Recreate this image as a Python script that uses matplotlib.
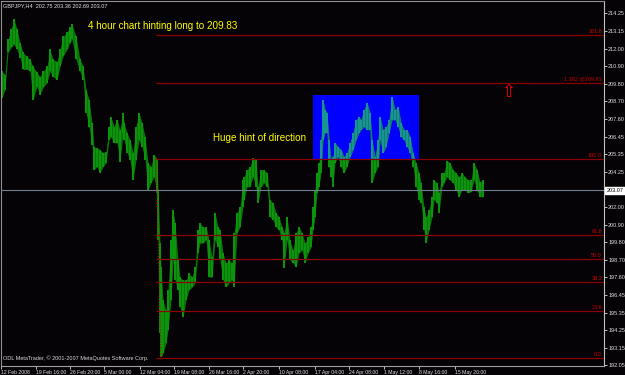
import matplotlib
matplotlib.use("Agg")
import matplotlib.pyplot as plt
import matplotlib.transforms as mtransforms
from matplotlib.patches import Rectangle

# GBPJPY H4 bars, sampled every few bars (bar number, high, low)
bar_no = [2, 5, 8, 11, 14, 17, 20, 23, 27, 30, 33, 37, 40, 43, 47, 50, 53, 57, 60, 63,
          67, 70, 72, 76, 80, 83, 86, 89, 92, 94, 97, 100, 103, 106, 109, 111, 114, 117, 120, 123,
          124, 127, 130, 133, 136, 139, 142, 145, 148, 151, 154, 157, 158, 160, 161, 163, 166, 168, 171, 173,
          175, 178, 180, 183, 186, 189, 192, 195, 198, 200, 203, 206, 209, 212, 215, 218, 220, 223, 226, 229,
          232, 234, 237, 240, 243, 244, 247, 250, 253, 256, 258, 261, 264, 267, 270, 273, 276, 279, 282, 284,
          287, 290, 293, 296, 299, 302, 305, 308, 311, 313, 315, 317, 319, 321, 323, 325, 327, 329, 331, 333,
          335, 338, 341, 344, 347, 350, 353, 356, 359, 361, 364, 367, 370, 372, 375, 378, 380, 383, 386, 389,
          392, 395, 398, 401, 404, 407, 410, 413, 416, 419, 421, 424, 426, 429, 432, 434, 437, 439, 442, 444,
          447, 450, 453, 456, 459, 462, 465, 468, 471, 474, 477, 480, 483]
highs = [210.58, 210.39, 212.60, 213.24, 213.87, 213.24, 212.41, 211.78, 211.53, 211.34,
         210.90, 210.52, 210.26, 210.58, 210.90, 211.97, 211.34, 211.21, 211.97, 212.79,
         213.05, 213.36, 213.55, 212.79, 211.34, 210.90, 209.44, 208.81, 207.35, 205.83,
         205.77, 205.64, 205.45, 205.52, 207.10, 207.73, 207.10, 207.54, 206.91, 207.98,
         207.35, 206.72, 206.27, 205.45, 207.10, 207.98, 207.35, 206.46, 204.82, 204.57,
         205.33, 205.07, 203.11, 199.75, 198.23, 196.15, 195.51, 196.78, 199.94, 201.84,
         201.02, 198.68, 197.60, 197.41, 197.41, 197.85, 197.60, 198.23, 200.58, 201.02,
         200.77, 200.77, 199.94, 198.87, 201.65, 200.77, 200.58, 199.12, 198.49, 198.68,
         198.49, 200.39, 201.65, 202.03, 203.74, 203.93, 204.38, 204.57, 205.14, 205.01,
         203.30, 204.38, 204.38, 204.19, 202.48, 202.29, 201.65, 201.40, 200.77, 200.39,
         201.40, 199.94, 199.31, 200.39, 200.77, 200.39, 199.75, 200.13, 200.77, 202.03,
         203.11, 204.19, 204.82, 206.27, 208.81, 208.17, 207.98, 206.27, 205.01, 205.20,
         206.08, 205.83, 205.64, 205.20, 205.45, 206.08, 206.72, 207.54, 207.73, 207.54,
         208.17, 208.62, 207.98, 206.27, 205.20, 206.27, 207.73, 206.91, 207.10, 207.54,
         209.00, 208.17, 208.36, 207.35, 206.91, 206.91, 206.46, 205.45, 204.82, 204.19,
         203.55, 202.03, 201.40, 201.84, 202.67, 203.74, 203.55, 202.92, 204.19, 204.19,
         204.95, 204.82, 204.38, 204.19, 203.93, 204.19, 203.93, 203.74, 203.74, 204.82,
         204.38, 203.61, 203.74]
lows = [208.93, 209.44, 211.78, 212.10, 212.29, 211.97, 211.46, 210.71, 210.71, 210.58,
        208.81, 209.63, 209.12, 209.57, 209.88, 210.58, 210.26, 210.07, 210.90, 211.53,
        211.97, 212.41, 212.60, 211.34, 210.58, 210.07, 207.98, 207.10, 205.96, 204.38,
        204.57, 204.19, 204.57, 204.82, 206.27, 206.46, 206.08, 206.08, 204.88, 206.72,
        206.27, 205.45, 205.01, 203.74, 205.01, 206.27, 205.83, 205.01, 203.11, 203.55,
        203.93, 202.92, 199.94, 194.06, 192.54, 192.79, 193.42, 194.25, 196.15, 198.68,
        197.41, 196.78, 195.70, 195.07, 196.15, 196.78, 196.97, 197.22, 199.12, 199.75,
        199.75, 199.94, 197.60, 197.60, 199.94, 199.50, 198.68, 197.41, 196.97, 197.22,
        197.41, 196.97, 200.39, 200.77, 202.03, 202.48, 203.30, 203.30, 203.93, 203.30,
        202.29, 203.30, 203.55, 203.30, 201.40, 201.21, 200.77, 200.58, 199.94, 198.17,
        199.94, 198.68, 198.49, 198.23, 199.12, 199.31, 198.49, 199.12, 199.50, 200.58,
        201.40, 202.92, 203.30, 204.19, 206.27, 206.72, 206.72, 204.57, 203.93, 203.30,
        204.82, 205.20, 204.57, 204.19, 204.57, 205.20, 205.64, 206.27, 206.72, 206.91,
        207.10, 206.91, 206.91, 203.55, 204.19, 204.57, 206.27, 205.45, 205.83, 206.72,
        207.54, 207.54, 207.10, 206.46, 206.27, 205.83, 205.45, 204.57, 203.30, 202.48,
        202.29, 200.58, 199.75, 200.58, 201.40, 202.48, 202.29, 201.65, 203.30, 203.55,
        203.93, 203.74, 203.55, 203.11, 202.67, 203.11, 203.11, 202.92, 202.98, 203.74,
        203.11, 202.67, 202.67]

last_price = 203.07
header = "GBPJPY,H4  202.75 203.36 202.69 203.07"

price_ticks = [214.25, 213.15, 212.00, 210.90, 209.80, 208.70, 207.60, 206.45, 205.35, 204.25,
               202.00, 200.90, 199.80, 198.70, 197.60, 196.45, 195.35, 194.25, 193.15, 192.05]
time_bars = [1, 36, 70, 104, 140, 174, 209, 243, 279, 315, 349, 384, 419, 455]
time_labels = ["12 Feb 2008", "19 Feb 16:00", "26 Feb 20:00", "5 Mar 00:00", "12 Mar 04:00",
               "19 Mar 08:00", "26 Mar 16:00", "2 Apr 20:00", "10 Apr 08:00", "17 Apr 04:00",
               "24 Apr 08:00", "1 May 12:00", "8 May 16:00", "15 May 20:00"]

# fibonacci drawn from the 12 Mar high down to the low
fib_high, fib_low = 205.07, 192.47
fib_start, fib_end = 156, 161
fib_ratios = [1.618, 1.382, 1.0, 0.618, 0.5, 0.382, 0.236, 0.0]
fib_names = ["161.8", "1.382 @209.83", "100.0", "61.8", "50.0", "38.2", "23.6", "0.0"]

# blue box (bars 313-419, 205.05-209.09)
box_bars = (313, 419)
box_prices = (205.05, 209.09)

bg = "#050306"
small = "Liberation Sans"

fig = plt.figure(figsize=(6.25, 3.75), dpi=100, facecolor=bg)
ax = fig.add_axes([1 / 625, 9 / 375, 603 / 625, 365 / 375], facecolor=bg)
ax.set_xlim(1, 604)
ax.set_ylim(191.99, 215.03)

box = Rectangle((box_bars[0], box_prices[0]), box_bars[1] - box_bars[0],
                box_prices[1] - box_prices[0], facecolor="#0000ff", edgecolor="none", zorder=1)
ax.add_patch(box)

band = ax.fill_between(bar_no, lows, highs, color="#0a760a", lw=0, zorder=2)
ax.vlines(bar_no, lows, highs, color="#0d960d", lw=1.4, zorder=2.5)
band2 = ax.fill_between(bar_no, lows, highs, color="#137a7a", lw=0, zorder=3)
band2.set_clip_path(box)
inside = ax.vlines(bar_no, lows, highs, color="#1a9494", lw=1.4, zorder=3.5)
inside.set_clip_path(box)

# fib levels
rng = fib_high - fib_low
for r, name in zip(fib_ratios, fib_names):
    p = fib_low + r * rng
    ax.hlines(p, fib_start, 604, color="#8b0000", lw=0.9, zorder=4)
    ax.text(602, p + 0.06, name, ha="right", va="bottom", color="#c80000", fontsize=4.0,
            family=small, zorder=5)
ax.plot([fib_start, fib_end], [fib_high, fib_low], color="#c00000", ls=":", lw=0.8, zorder=4)

ax.axhline(last_price, color="#708090", lw=0.8, zorder=4)
trans = mtransforms.blended_transform_factory(ax.transAxes, ax.transData)
ax.text(1.004, last_price, f"{last_price:.2f}", transform=trans, ha="left", va="center",
        fontsize=4.0, family=small, color="black", clip_on=False,
        bbox=dict(boxstyle="square,pad=0.2", fc="white", ec="white"))

ax.text(88, 213.45, "4 hour chart hinting long to 209.83", color="#ffff00", fontsize=7.1,
        family="Liberation Sans", va="center", ha="left", zorder=6)
ax.text(213, 206.38, "Huge hint of direction", color="#ffff00", fontsize=7.1,
        family="Liberation Sans", va="center", ha="left", zorder=6)
ax.text(508, 209.28, "\u21e7", color="#ff0000", fontsize=12, ha="center", va="center", zorder=6)

ax.text(3, 214.75, header, color="#e0e0e0", fontsize=4.0, family=small, va="center", ha="left")
ax.text(3, 192.5, "ODL MetaTrader, \u00a9 2001-2007 MetaQuotes Software Corp.",
        color="#d8d8d8", fontsize=4.0, family=small, va="center", ha="left")

ax.yaxis.tick_right()
ax.set_yticks(price_ticks)
ax.set_yticklabels([f"{p:.2f}" for p in price_ticks], family=small)
ax.tick_params(axis="y", colors="#c0c0c0", labelcolor="#e0e0e0", labelsize=4.0,
               length=2.2, width=0.7, pad=0.8)
ax.set_xticks(time_bars)
ax.set_xticklabels(time_labels, ha="left", family=small)
ax.tick_params(axis="x", colors="#c0c0c0", labelcolor="#e0e0e0", labelsize=3.7,
               length=2.5, width=0.7, pad=0.5)

for side in ["left", "top"]:
    ax.spines[side].set_color("#909090")
ax.spines["right"].set_color("#c0c0c0")
ax.spines["bottom"].set_color("#a0a0a0")
for s in ax.spines.values():
    s.set_linewidth(0.8)

fig.savefig("out.png", dpi=100, facecolor=bg)
